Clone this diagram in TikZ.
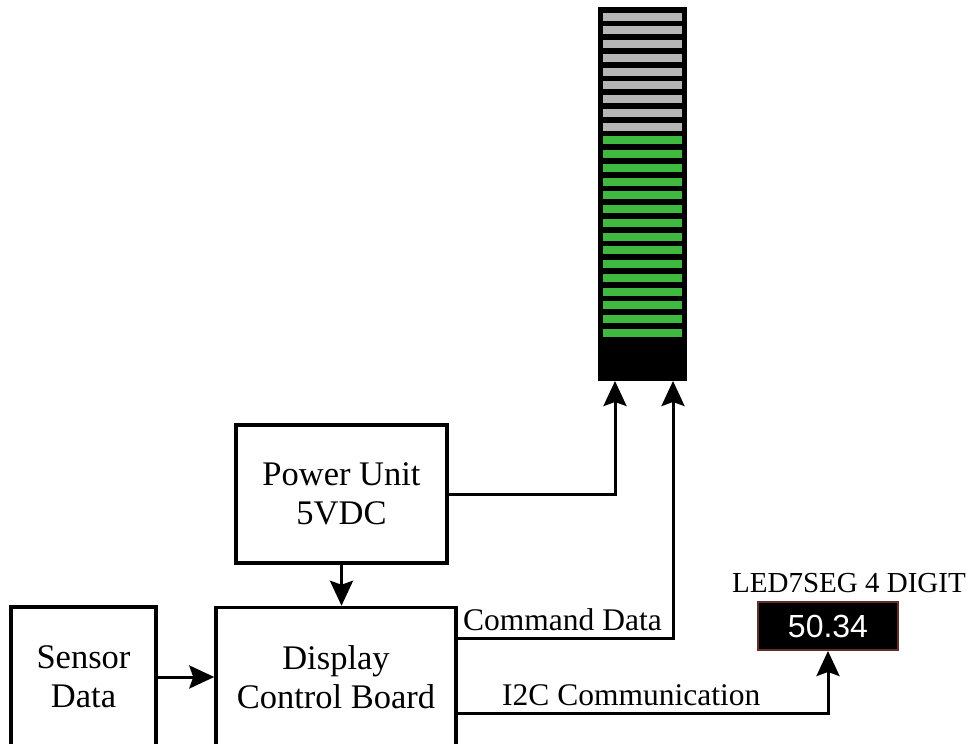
\documentclass[tikz,border=0pt]{standalone}
\usepackage{fontspec}
\setmainfont{Liberation Serif}
\newfontfamily\digitfont{Liberation Sans}
\usetikzlibrary{arrows.meta,calc}
\definecolor{ledgreen}{RGB}{64,185,64}
\definecolor{ledgray}{RGB}{182,182,182}
\definecolor{segborder}{RGB}{100,45,45}
\begin{document}
\begin{tikzpicture}[x=1pt,y=-1pt,
 blockbox/.style={draw, line width=3.5pt, inner sep=0pt, align=center, font=\fontsize{34.5}{39}\selectfont},
 conn/.style={line width=3pt},
 arr/.style={conn,-{Stealth[length=25pt,width=23pt,inset=4pt]}},
 lbl/.style={inner sep=0pt, font=\fontsize{31.5}{36}\selectfont, anchor=base west}]
\useasboundingbox (0,0) rectangle (969,744);
% blocks
\node[blockbox, minimum width=211pt, minimum height=138pt] (pwr) at (341.5,494) {Power Unit\\5VDC};
\node[blockbox, minimum width=145pt, minimum height=140pt] (sensor) at (83.5,677) {Sensor\\Data};
\node[blockbox, minimum width=240pt, minimum height=139pt] (dcb) at (336,677) {Display\\Control Board};
% LED bar
\node[fill=black, minimum width=89pt, minimum height=374pt, inner sep=0pt] (bar) at (642.5,194) {};
\foreach \i in {0,...,8}
  \fill[ledgray] (603,{12.7+13.74*\i}) rectangle (682,{20.7+13.74*\i});
\foreach \i in {9,...,23}
  \fill[ledgreen] (603,{12.7+13.74*\i}) rectangle (682,{20.7+13.74*\i});
% 7 segment display
\node[fill=black, draw=segborder, line width=2pt, minimum width=140pt, minimum height=48pt, inner sep=0pt, text=white, font=\digitfont\fontsize{32}{36}\selectfont] (seg) at (828,626) {50.34};
\node[inner sep=0pt, anchor=base, font=\fontsize{29}{32}\selectfont] (seglbl) at (849,592) {LED7SEG 4 DIGIT};
% connectors
\coordinate (barin1) at (615,381);
\coordinate (barin2) at (673,381);
\coordinate (cmdy) at (0,638);
\coordinate (i2cy) at (0,713);
\draw[arr] (pwr.east) -| (barin1);
\draw[arr] (dcb.east |- cmdy) -| (barin2);
\draw[arr] (dcb.east |- i2cy) -| (seg.south);
\draw[arr] (sensor.east) -- (dcb.west);
\draw[arr] (pwr.south) -- (pwr.south |- dcb.north);
% labels
\node[lbl] (cmdlbl) at (463,630) {Command Data};
\node[lbl] (i2clbl) at (502,705) {I2C Communication};
\end{tikzpicture}
\end{document}
